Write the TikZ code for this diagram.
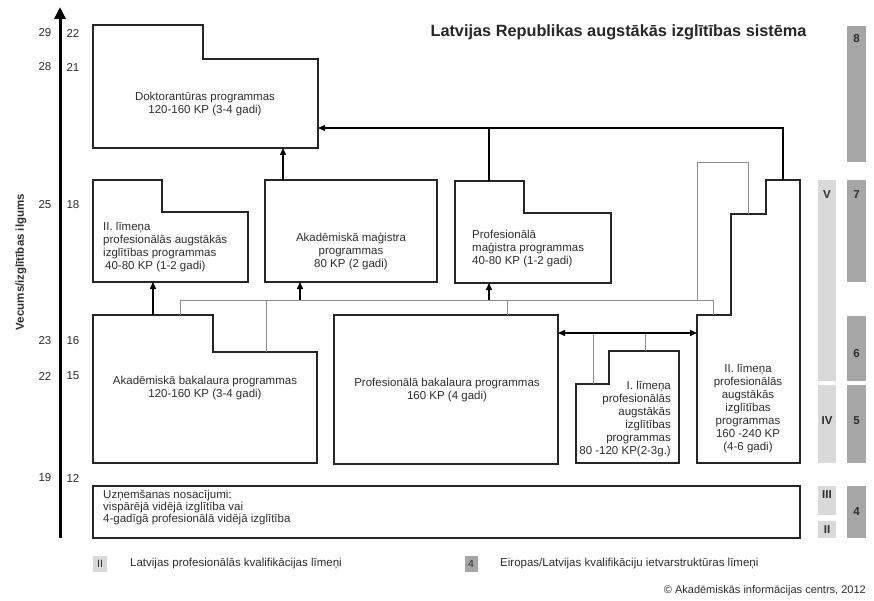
\documentclass[tikz,border=0pt]{standalone}
\usepackage{fontspec}
\setmainfont{Liberation Sans}
\usetikzlibrary{arrows.meta}
\definecolor{LvlDark}{RGB}{166,166,166}
\definecolor{LvlLight}{RGB}{217,217,217}
\definecolor{LinkGray}{RGB}{140,140,140}
\definecolor{TextGray}{RGB}{45,45,45}
\tikzset{
  prog/.style={draw=black!85,line width=1.8pt,line join=miter},
  bus/.style={draw=LinkGray,line width=1pt},
  feed/.style={draw=black,line width=1.4pt,-{Triangle[length=7pt,width=6pt]}},
  both/.style={draw=black,line width=1.4pt,{Triangle[length=7pt,width=6pt]}-{Triangle[length=7pt,width=6pt]}},
  axis/.style={draw=black,line width=3pt,-{Triangle[length=12pt,width=11pt]}},
  txt/.style={font=\fontsize{11.5}{13}\selectfont,text=TextGray,inner sep=0pt},
}
\tikzset{eqf/.style={fill=LvlDark}, lv/.style={fill=LvlLight},
  lvlab/.style={font=\bfseries\fontsize{11.5}{13}\selectfont,text=TextGray,inner sep=0pt}}

\begin{document}
\begin{tikzpicture}[x=1pt,y=-1pt]
\useasboundingbox (0,0) rectangle (874,601);
\coordinate (ax-bot) at (60,538);
\coordinate (ax-top) at (60,7);
\coordinate (dok-s) at (283,148);
\coordinate (dok-e) at (318,128);
\coordinate (lvl2-s) at (153,282);
\coordinate (akmag-n) at (283,180);
\coordinate (akmag-s) at (300,282);
\coordinate (prmag-n) at (489,181);
\coordinate (prmag-s) at (489,283);
\coordinate (akbak-n) at (153,315);
\coordinate (akbak-nw) at (180,315);
\coordinate (akbak-step) at (266,352);
\coordinate (prbak-n) at (507,315);
\coordinate (prbak-e) at (558,333);
\coordinate (lvl1-step) at (593,384);
\coordinate (lvl1-n) at (645,351);
\coordinate (lvl2b-w) at (697,333);
\coordinate (lvl2b-n) at (783,180);
\coordinate (lvl2b-step) at (713,315);
\coordinate (lvl2b-hi) at (748,214);
\coordinate (bus-w) at (180,300);
\coordinate (bus-e) at (713,300);
\coordinate (bus-top) at (697,163);
\coordinate (dok-bus) at (783,128);

\draw[axis] (ax-bot) -- (ax-top);
\node[font=\bfseries\fontsize{11.5}{13}\selectfont,text=TextGray,rotate=90] (axlab) at (21,262) {Vecums/izglītības ilgums};
\foreach \y/\a/\b in {33/29/22,67/28/21,205/25/18,341/23/16,376/22/15,478/19/12}{
  \node[txt] (age\a) at (45,\y) {\a};
  \node[txt] (yrs\b) at (73,\y) {\b};
}
\node[font=\bfseries\fontsize{16.3}{18}\selectfont,text=black!85,anchor=west] (title) at (427,32) {Latvijas Republikas augstākās izglītības sistēma};

\draw[prog] (93,25) -- (203,25) -- (203,59) -- (318,59) -- (318,148) -- (93,148) -- cycle;
\draw[prog] (93,180) -- (162,180) -- (162,212) -- (248,212) -- (248,282) -- (93,282) -- cycle;
\draw[prog] (265,180) rectangle (437,282);
\draw[prog] (455,181) -- (524,181) -- (524,213) -- (611,213) -- (611,283) -- (455,283) -- cycle;
\draw[prog] (93,315) -- (213,315) -- (213,352) -- (317,352) -- (317,463) -- (93,463) -- cycle;
\draw[prog] (334,315) rectangle (558,464);
\draw[prog] (576,384) -- (609,384) -- (609,351) -- (679,351) -- (679,463) -- (576,463) -- cycle;
\draw[prog] (766,180) -- (800,180) -- (800,463) -- (697,463) -- (697,315) -- (731,315) -- (731,214) -- (766,214) -- cycle;
\draw[prog] (93,486) rectangle (800,538);

\node[txt,align=center] (dok) at (205,104) {Doktorantūras programmas\\120-160 KP (3-4 gadi)};
\node[txt,align=left,anchor=west] (lvl2) at (103,247) {II. līmeņa\\profesionālās augstākās\\izglītības programmas\\\hspace*{2pt}40-80 KP (1-2 gadi)};
\node[txt,align=center] (akmag) at (351,251) {Akadēmiskā maģistra\\programmas\\80 KP (2 gadi)};
\node[txt,align=left,anchor=west] (prmag) at (472,249) {Profesionālā\\maģistra programmas\\40-80 KP (1-2 gadi)};
\node[txt,align=center] (akbak) at (205,388) {Akadēmiskā bakalaura programmas\\120-160 KP (3-4 gadi)};
\node[txt,align=center] (prbak) at (447,390) {Profesionālā bakalaura programmas\\160 KP (4 gadi)};
\node[txt,align=right,anchor=east] (lvl1) at (671,419) {I. līmeņa\\profesionālās\\augstākās\\izglītības\\programmas\\80 -120 KP(2-3g.)};
\node[txt,align=center] (lvl2b) at (748,409) {II. līmeņa\\profesionālās\\augstākās\\izglītības\\programmas\\160 -240 KP\\(4-6 gadi)};
\node[txt,align=left,anchor=west,font=\fontsize{11.5}{12}\selectfont] (uzn) at (103,508) {Uzņemšanas nosacījumi:\\vispārējā vidējā izglītība vai\\4-gadīgā profesionālā vidējā izglītība};

\draw[bus] (akbak-nw) -- (bus-w) -- (bus-e) -- (lvl2b-step);
\draw[bus] (akbak-step) -- (akbak-step |- bus-w);
\draw[bus] (prbak-n) -- (prbak-n |- bus-w);
\draw[bus] (bus-top |- bus-w) -- (bus-top) -| (lvl2b-hi);
\draw[bus] (lvl1-step) -- (lvl1-step |- prbak-e);
\draw[bus] (lvl1-n) -- (lvl1-n |- prbak-e);
\draw[feed] (akbak-n) -- (lvl2-s);
\draw[feed] (akmag-s |- bus-w) -- (akmag-s);
\draw[feed] (prmag-s |- bus-w) -- (prmag-s);
\draw[feed] (akmag-n) -- (dok-s);
\draw[feed] (lvl2b-n) -- (dok-bus) -- (dok-e);
\draw[black,line width=1.4pt] (prmag-n) -- (prmag-n |- dok-e);
\draw[both] (prbak-e) -- (lvl2b-w);

\foreach \t/\b/\l/\ly in {26/162/8/39,180/282/7/195,316/381/6/354,385/463/5/421,486/538/4/512}{
  \fill[eqf] (847,\t) rectangle (866,\b);
  \node[lvlab] (eqf\l) at (856.5,\ly) {\l};
}
\foreach \t/\b/\l/\ly in {180/381/V/195,385/463/IV/421,486/515/III/495,521/538/II/530}{
  \fill[lv] (818,\t) rectangle (836,\b);
  \node[lvlab] (lv\l) at (827,\ly) {\l};
}
\node[lv,minimum width=14pt,minimum height=16pt,inner sep=0pt,font=\fontsize{10.5}{12}\selectfont,text=TextGray] (keylv) at (100,564) {II};
\node[txt,anchor=west] (keylvtxt) at (130,564) {Latvijas profesionālās kvalifikācijas līmeņi};
\node[eqf,minimum width=13pt,minimum height=16pt,inner sep=0pt,font=\fontsize{10.5}{12}\selectfont,text=TextGray] (keyeqf) at (471,564) {4};
\node[txt,anchor=west] (keyeqftxt) at (500,564) {Eiropas/Latvijas kvalifikāciju ietvarstruktūras līmeņi};
\node[txt,anchor=east,font=\fontsize{11}{13}\selectfont] (copy) at (866,591) {© Akadēmiskās informācijas centrs, 2012};
\end{tikzpicture}
\end{document}
